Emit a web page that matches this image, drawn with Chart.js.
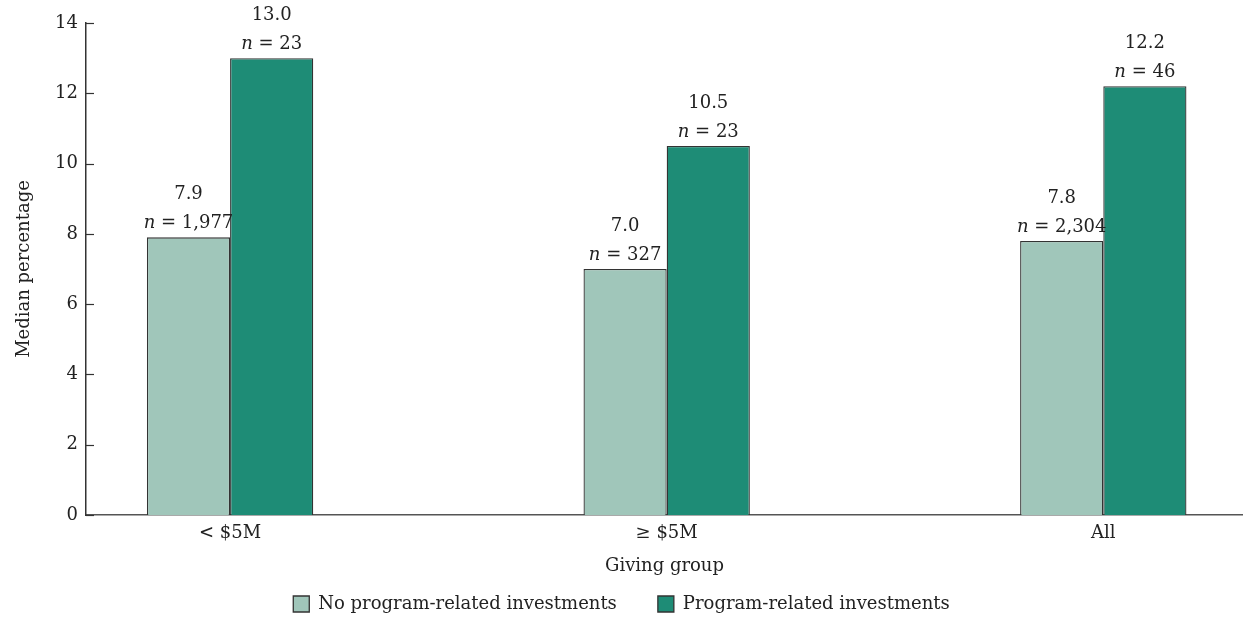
<!DOCTYPE html>
<html>
<head>
<meta charset="utf-8">
<script src="https://cdn.jsdelivr.net/npm/chart.js@4/dist/chart.umd.min.js"></script>
<style>
  html, body { margin: 0; padding: 0; background: #fff; }
  #wrap { width: 1243px; height: 617px; position: relative; }
</style>
</head>
<body>
<div id="wrap"><canvas id="chart"></canvas></div>
<script>
const categories = ["< $5M", "\u2265 $5M", "All"];
const noPriValues = [7.9, 7.0, 7.8];
const priValues = [13.0, 10.5, 12.2];
const noPriCounts = ["1,977", "327", "2,304"];
const priCounts = ["23", "23", "46"];
const yTicks = [0, 2, 4, 6, 8, 10, 12, 14];

const FONT = "'DejaVu Serif', 'Liberation Serif', serif";
const FS = 18;
const TEXT = "#222";
const LIGHT = "#a0c6ba";
const DARK = "#1e8c76";
const EDGE = "#333";

// short ticks pointing into the plot, like the original
const innerTicks = {
  id: "innerTicks",
  afterDraw(chart) {
    const { ctx, scales: { y }, chartArea } = chart;
    ctx.save();
    ctx.strokeStyle = EDGE;
    ctx.lineWidth = 1.2;
    yTicks.forEach(v => {
      const py = Math.round(y.getPixelForValue(v)) + 0.5;
      ctx.beginPath();
      ctx.moveTo(chartArea.left, py);
      ctx.lineTo(chartArea.left + 8, py);
      ctx.stroke();
    });
    ctx.restore();
  }
};

// value and n labels above each bar
const barLabels = {
  id: "barLabels",
  afterDatasetsDraw(chart) {
    const { ctx } = chart;
    const counts = [noPriCounts, priCounts];
    const plain = FS + "px " + FONT;
    const ital = "italic " + FS + "px " + FONT;
    ctx.save();
    ctx.fillStyle = TEXT;
    ctx.textBaseline = "alphabetic";
    chart.data.datasets.forEach((ds, di) => {
      chart.getDatasetMeta(di).data.forEach((bar, i) => {
        const cx = bar.x;
        const top = bar.y;
        ctx.font = plain;
        ctx.textAlign = "center";
        ctx.fillText(ds.data[i].y.toFixed(1), cx, top - 38);
        // "n = 23" with italic n
        const rest = " = " + counts[di][i];
        ctx.font = ital;
        const wN = ctx.measureText("n").width;
        ctx.font = plain;
        const wR = ctx.measureText(rest).width;
        const x0 = cx - (wN + wR) / 2;
        ctx.textAlign = "left";
        ctx.font = ital;
        ctx.fillText("n", x0, top - 9);
        ctx.font = plain;
        ctx.fillText(rest, x0 + wN, top - 9);
      });
    });
    ctx.restore();
  }
};

// keep the legend row compact so the plot keeps its height
const legendHeight = {
  id: "legendHeight",
  beforeInit(chart) {
    const lg = chart.legend;
    if (!lg) return;
    const fit = lg.fit.bind(lg);
    lg.fit = function () {
      fit();
      this.height = 36;
    };
  }
};

new Chart(document.getElementById("chart"), {
  type: "bar",
  data: {
    datasets: [
      {
        label: "No program-related investments",
        data: categories.map((c, i) => ({ x: i, y: noPriValues[i] })),
        backgroundColor: LIGHT,
        borderColor: EDGE,
        borderWidth: 1.3
      },
      {
        label: "Program-related investments",
        data: categories.map((c, i) => ({ x: i, y: priValues[i] })),
        backgroundColor: DARK,
        borderColor: EDGE,
        borderWidth: 1.3
      }
    ]
  },
  options: {
    responsive: true,
    maintainAspectRatio: false,
    animation: false,
    datasets: { bar: { categoryPercentage: 0.381, barPercentage: 1.0 } },
    layout: { padding: { top: 23, right: 0, left: 0, bottom: 0 } },
    scales: {
      x: {
        type: "linear",
        offset: false,
        min: -0.33,
        max: 2.32,
        afterBuildTicks: s => { s.ticks = categories.map((c, i) => ({ value: i })); },
        afterFit: s => { s.height = 66; },
        grid: { display: false, drawTicks: false },
        border: { display: true, color: "#555", width: 1.5 },
        ticks: {
          padding: 8,
          color: TEXT,
          font: { family: FONT, size: FS },
          callback: v => categories[v]
        },
        title: {
          display: true,
          text: "Giving group",
          color: TEXT,
          font: { family: FONT, size: FS },
          padding: { top: 5, bottom: 4 }
        }
      },
      y: {
        min: 0,
        max: 14,
        afterBuildTicks: s => { s.ticks = yTicks.map(v => ({ value: v })); },
        afterFit: s => { s.width = 86; },
        grid: { display: false, drawTicks: false },
        border: { display: true, color: "#333", width: 1.5 },
        ticks: {
          padding: 8,
          color: TEXT,
          font: { family: FONT, size: FS }
        },
        title: {
          display: true,
          text: "Median percentage",
          color: TEXT,
          font: { family: FONT, size: FS },
          padding: { top: 14, bottom: 6 }
        }
      }
    },
    plugins: {
      legend: {
        position: "bottom",
        labels: {
          color: TEXT,
          font: { family: FONT, size: FS },
          boxWidth: 16,
          boxHeight: 16,
          padding: 14,
          generateLabels: chart => {
            const items = Chart.defaults.plugins.legend.labels.generateLabels(chart);
            items.forEach((it, i) => {
              if (i < items.length - 1) it.text += "\u2003\u2002";
            });
            return items;
          }
        }
      },
      tooltip: { enabled: false }
    }
  },
  plugins: [innerTicks, barLabels, legendHeight]
});
</script>
</body>
</html>
